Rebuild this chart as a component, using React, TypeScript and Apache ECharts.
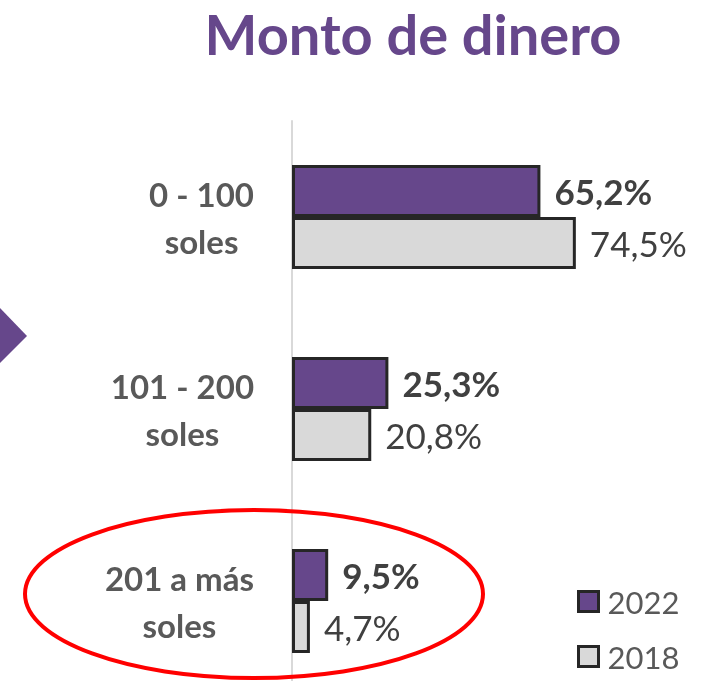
import React, { useEffect, useRef } from "react";
import * as echarts from "echarts";

const categories = ["0 - 100\nsoles", "101 - 200\nsoles", "201 a más\nsoles"];
const values2022 = [65.2, 25.3, 9.5];
const values2018 = [74.5, 20.8, 4.7];
const seriesNames = ["2022", "2018"];

const PURPLE = "#66478B";
const GRAY = "#D9D9D9";
const BORDER = "#262626";
const FONT = "Lato";

const fmt = (p: any) => p.value.toFixed(1).replace(".", ",") + "%";

export default function App() {
  const ref = useRef<HTMLDivElement>(null);
  useEffect(() => {
    const chart = echarts.init(ref.current!, null, { renderer: "svg" });
    chart.setOption({
      animation: false,
      title: {
        text: "Monto de dinero",
        left: 408,
        top: 0,
        textAlign: "center",
        textStyle: { fontFamily: FONT, fontSize: 56, fontWeight: "bold", color: PURPLE },
      },
      legend: {
        orient: "vertical",
        left: 572,
        top: 581,
        height: 200,
        itemWidth: 20,
        itemHeight: 20,
        itemGap: 24,
        icon: "rect",
        itemStyle: { borderColor: BORDER, borderWidth: 3 },
        textStyle: { fontFamily: FONT, fontSize: 31, color: "#595959", padding: [0, 0, 0, 4] },
        data: seriesNames,
      },
      grid: { left: 292, right: 29, top: 121, bottom: 3 },
      xAxis: { type: "value", min: 0, max: 100, show: false },
      yAxis: {
        type: "category",
        inverse: true,
        data: categories,
        axisLine: { show: true, lineStyle: { color: GRAY, width: 2 } },
        axisTick: { show: false },
        axisLabel: {
          margin: 38,
          align: "right",
          formatter: (v: string) =>
            v
              .split("\n")
              .map((s) => "{c|" + s + "}")
              .join("\n"),
          rich: {
            c: {
              align: "center",
              fontFamily: FONT,
              fontSize: 33,
              fontWeight: "bold",
              color: "#595959",
              lineHeight: 47,
            },
          },
        },
      },
      series: [
        {
          name: seriesNames[0],
          type: "bar",
          data: values2022,
          barWidth: 52,
          barGap: "0%",
          itemStyle: { color: PURPLE, borderColor: BORDER, borderWidth: 3 },
          label: {
            show: true,
            position: "right",
            distance: 14,
            formatter: fmt,
            fontFamily: FONT,
            fontSize: 35,
            fontWeight: "bold",
            color: "#404040",
          },
        },
        {
          name: seriesNames[1],
          type: "bar",
          data: values2018,
          barWidth: 52,
          barGap: "0%",
          itemStyle: { color: GRAY, borderColor: BORDER, borderWidth: 3 },
          label: {
            show: true,
            position: "right",
            distance: 14,
            formatter: fmt,
            fontFamily: FONT,
            fontSize: 35,
            color: "#404040",
          },
        },
      ],
      graphic: [
        {
          type: "polygon",
          shape: { points: [[0, 308], [27, 336], [0, 363]] },
          style: { fill: PURPLE },
        },
        {
          type: "ellipse",
          shape: { cx: 254, cy: 594, rx: 229, ry: 84 },
          style: { fill: "none", stroke: "#FF0000", lineWidth: 4 },
          z: 100,
        },
      ],
    });
    return () => chart.dispose();
  }, []);
  return (
    <div
      ref={ref}
      style={{ position: "fixed", left: 0, top: 0, width: 702, height: 700 }}
    />
  );
}
